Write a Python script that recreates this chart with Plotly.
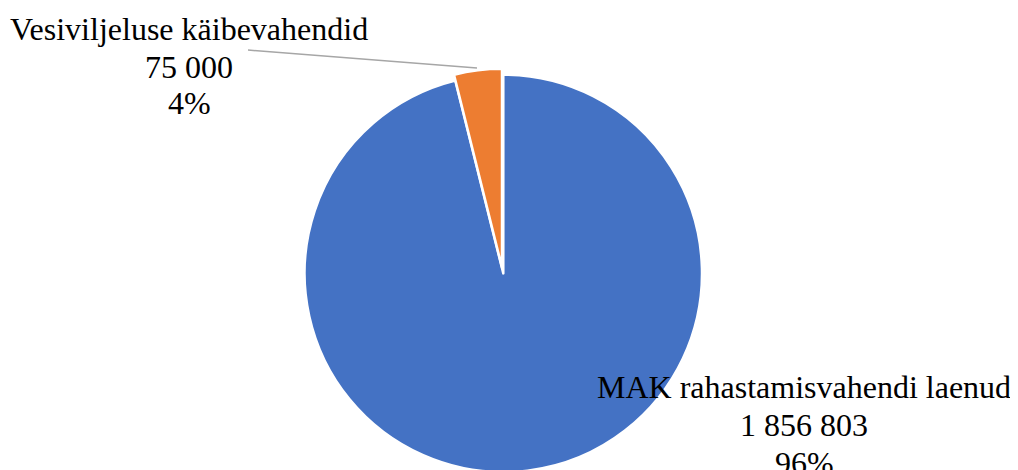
import plotly.graph_objects as go

labels = ["MAK rahastamisvahendi laenud", "Vesiviljeluse käibevahendid"]
values = [1856803, 75000]
colors = ["#4472C4", "#ED7D31"]

W, H = 1018, 470
total = sum(values)

def fmt(v):
    return f"{v:,}".replace(",", " ")

def pct(v):
    return f"{round(v / total * 100):d}%"

def px_dom(cx, cy, r):
    return dict(x=[(cx - r - 100) / W, (cx + r + 100) / W],
                y=[1 - (cy + r) / H, 1 - (cy - r) / H])

TRANSP = "rgba(0,0,0,0)"
R = 198.7

fig = go.Figure()
# main (blue) slice
fig.add_trace(go.Pie(
    labels=labels, values=values, sort=False, direction="clockwise", rotation=0,
    marker=dict(colors=[colors[0], TRANSP], line=dict(color=["white", TRANSP], width=2.5)),
    textinfo="none", hoverinfo="label+value+percent", showlegend=False,
    domain=px_dom(495.3, 265.4, R),
))
# exploded (orange) slice
fig.add_trace(go.Pie(
    labels=labels, values=values, sort=False, direction="clockwise", rotation=0,
    marker=dict(colors=[TRANSP, colors[1]], line=dict(color=[TRANSP, "white"], width=2.5)),
    textinfo="none", hoverinfo="label+value+percent", showlegend=False,
    domain=px_dom(494, 259.5, R),
))

font = dict(family="Liberation Serif, Times New Roman, serif", size=32, color="black")

# (x center, [y centers of the three lines]) in pixels
label_pos = [(796, [378.5, 416.5, 454.5]), (181, [21.2, 59.5, 95.2])]
for lab, val, (x, ys) in zip(labels, values, label_pos):
    for txt, y in zip([lab, fmt(val), pct(val)], ys):
        fig.add_annotation(
            text=txt, x=x / W, y=1 - y / H, xref="paper", yref="paper",
            xanchor="center", yanchor="middle", showarrow=False, font=font,
        )

fig.add_shape(type="line", xref="paper", yref="paper",
              x0=240 / W, y0=1 - 42 / H, x1=469 / W, y1=1 - 60 / H,
              line=dict(color="#A6A6A6", width=1.5))

fig.update_layout(
    width=W, height=H, margin=dict(l=0, r=0, t=0, b=0),
    paper_bgcolor="white", plot_bgcolor="white",
)

fig.write_html("out.html")
